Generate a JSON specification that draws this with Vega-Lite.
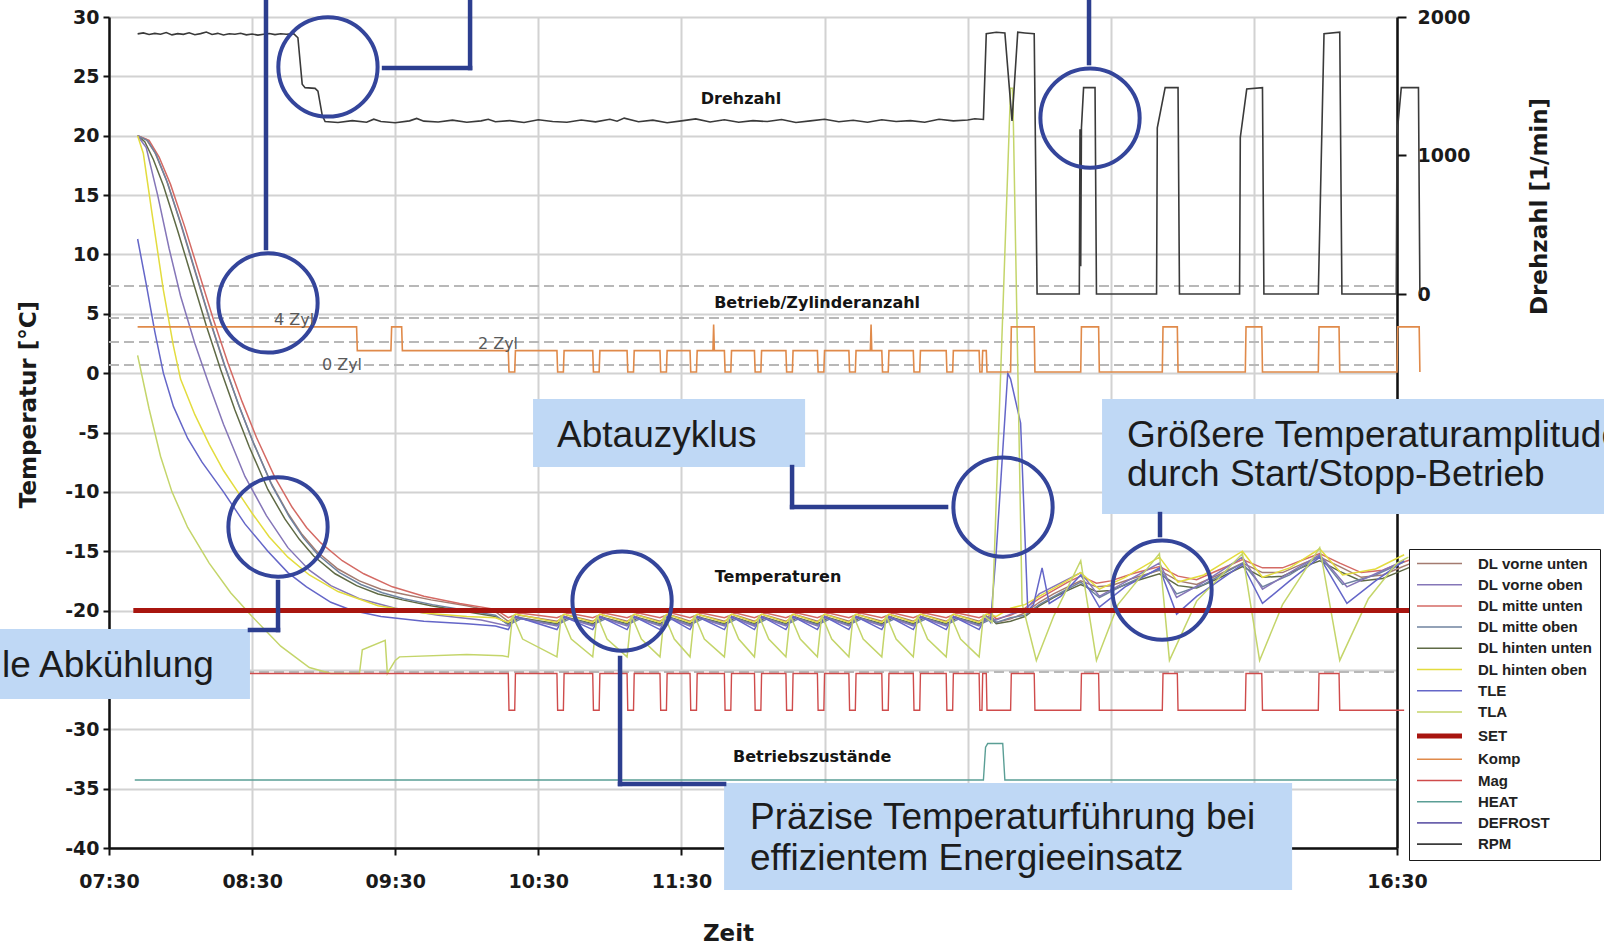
{
"$schema":"https://vega.github.io/schema/vega-lite/v6.json",
"width":1288,"height":831,
"autosize":{"type":"none"},
"padding":{"left":109,"top":17,"right":207,"bottom":101},
"background":"white",
"config":{
 "view":{"stroke":null},
 "axis":{"labelFont":"DejaVu Sans","labelFontWeight":"bold","labelFontSize":19,"labelColor":"#1a1a1a","titleFont":"DejaVu Sans","titleFontWeight":"bold","titleFontSize":23,"titleColor":"#1a1a1a","domainColor":"#111111","domainWidth":2.5,"tickColor":"#111111","tickWidth":2,"gridColor":"#d2d2d2","gridWidth":2}
},
"datasets":{
 "refs":[{"t":7.5,"t2":16.5,"v":7.34},{"t":7.5,"t2":16.5,"v":4.64},{"t":7.5,"t2":16.5,"v":2.62},{"t":7.5,"t2":16.5,"v":0.68},{"t":7.5,"t2":16.5,"v":-25.18}],
 "temps":[
{"s":"DL vorne unten","t":7.70,"v":20},{"s":"DL vorne unten","t":7.76,"v":19.7},{"s":"DL vorne unten","t":7.82,"v":18.6},{"s":"DL vorne unten","t":7.90,"v":16.3},{"s":"DL vorne unten","t":8.00,"v":12.6},{"s":"DL vorne unten","t":8.10,"v":8.6},{"s":"DL vorne unten","t":8.20,"v":4.6},{"s":"DL vorne unten","t":8.30,"v":0.9},{"s":"DL vorne unten","t":8.40,"v":-2.5},{"s":"DL vorne unten","t":8.50,"v":-5.6},{"s":"DL vorne unten","t":8.63,"v":-9.2},{"s":"DL vorne unten","t":8.75,"v":-11.8},{"s":"DL vorne unten","t":8.85,"v":-13.6},{"s":"DL vorne unten","t":8.95,"v":-15.0},{"s":"DL vorne unten","t":9.10,"v":-16.5},{"s":"DL vorne unten","t":9.25,"v":-17.5},{"s":"DL vorne unten","t":9.40,"v":-18.2},{"s":"DL vorne unten","t":9.55,"v":-18.6},{"s":"DL vorne unten","t":9.75,"v":-19.1},{"s":"DL vorne unten","t":10.00,"v":-19.6},{"s":"DL vorne unten","t":10.20,"v":-20.1},
{"s":"DL vorne unten","t":10.29,"v":-20.9},{"s":"DL vorne unten","t":10.37,"v":-20.4},{"s":"DL vorne unten","t":10.63,"v":-20.9},{"s":"DL vorne unten","t":10.71,"v":-20.4},{"s":"DL vorne unten","t":10.88,"v":-20.9},{"s":"DL vorne unten","t":10.96,"v":-20.4},{"s":"DL vorne unten","t":11.12,"v":-20.9},{"s":"DL vorne unten","t":11.20,"v":-20.4},{"s":"DL vorne unten","t":11.35,"v":-20.9},{"s":"DL vorne unten","t":11.43,"v":-20.4},{"s":"DL vorne unten","t":11.56,"v":-20.9},{"s":"DL vorne unten","t":11.64,"v":-20.4},{"s":"DL vorne unten","t":11.80,"v":-20.9},{"s":"DL vorne unten","t":11.88,"v":-20.4},{"s":"DL vorne unten","t":12.01,"v":-20.9},{"s":"DL vorne unten","t":12.09,"v":-20.4},{"s":"DL vorne unten","t":12.23,"v":-20.9},{"s":"DL vorne unten","t":12.31,"v":-20.4},{"s":"DL vorne unten","t":12.45,"v":-20.9},{"s":"DL vorne unten","t":12.53,"v":-20.4},{"s":"DL vorne unten","t":12.67,"v":-20.9},{"s":"DL vorne unten","t":12.75,"v":-20.4},{"s":"DL vorne unten","t":12.90,"v":-20.9},{"s":"DL vorne unten","t":12.98,"v":-20.4},{"s":"DL vorne unten","t":13.12,"v":-20.9},{"s":"DL vorne unten","t":13.20,"v":-20.4},{"s":"DL vorne unten","t":13.35,"v":-20.9},{"s":"DL vorne unten","t":13.43,"v":-20.4},{"s":"DL vorne unten","t":13.58,"v":-20.9},{"s":"DL vorne unten","t":13.66,"v":-20.4},
{"s":"DL vorne unten","t":13.70,"v":-21.0},{"s":"DL vorne unten","t":13.80,"v":-20.7},{"s":"DL vorne unten","t":13.90,"v":-20.2},{"s":"DL vorne unten","t":14.00,"v":-19.3},{"s":"DL vorne unten","t":14.10,"v":-18.6},{"s":"DL vorne unten","t":14.20,"v":-18.0},{"s":"DL vorne unten","t":14.29,"v":-17.5},{"s":"DL vorne unten","t":14.40,"v":-18.0},{"s":"DL vorne unten","t":14.50,"v":-17.9},{"s":"DL vorne unten","t":14.65,"v":-17.3},{"s":"DL vorne unten","t":14.84,"v":-16.6},{"s":"DL vorne unten","t":14.97,"v":-17.5},{"s":"DL vorne unten","t":15.10,"v":-17.8},{"s":"DL vorne unten","t":15.25,"v":-17.0},{"s":"DL vorne unten","t":15.42,"v":-16.0},{"s":"DL vorne unten","t":15.56,"v":-16.8},{"s":"DL vorne unten","t":15.70,"v":-16.8},{"s":"DL vorne unten","t":15.85,"v":-16.0},{"s":"DL vorne unten","t":15.96,"v":-15.5},{"s":"DL vorne unten","t":16.10,"v":-16.3},{"s":"DL vorne unten","t":16.25,"v":-17.2},{"s":"DL vorne unten","t":16.40,"v":-17.0},{"s":"DL vorne unten","t":16.50,"v":-16.5},{"s":"DL vorne unten","t":16.60,"v":-16.0},

{"s":"DL mitte unten","t":7.70,"v":20},{"s":"DL mitte unten","t":7.78,"v":19.6},{"s":"DL mitte unten","t":7.85,"v":18.2},{"s":"DL mitte unten","t":7.93,"v":15.9},{"s":"DL mitte unten","t":8.03,"v":12.3},{"s":"DL mitte unten","t":8.13,"v":8.4},{"s":"DL mitte unten","t":8.23,"v":4.5},{"s":"DL mitte unten","t":8.33,"v":0.9},{"s":"DL mitte unten","t":8.43,"v":-2.4},{"s":"DL mitte unten","t":8.53,"v":-5.4},{"s":"DL mitte unten","t":8.66,"v":-8.8},{"s":"DL mitte unten","t":8.78,"v":-11.3},{"s":"DL mitte unten","t":8.88,"v":-13.0},{"s":"DL mitte unten","t":8.98,"v":-14.3},{"s":"DL mitte unten","t":9.13,"v":-15.8},{"s":"DL mitte unten","t":9.28,"v":-16.9},{"s":"DL mitte unten","t":9.48,"v":-18.0},{"s":"DL mitte unten","t":9.70,"v":-18.8},{"s":"DL mitte unten","t":9.95,"v":-19.4},{"s":"DL mitte unten","t":10.20,"v":-19.9},
{"s":"DL mitte unten","t":10.29,"v":-20.6},{"s":"DL mitte unten","t":10.37,"v":-20.2},{"s":"DL mitte unten","t":10.63,"v":-20.6},{"s":"DL mitte unten","t":10.71,"v":-20.2},{"s":"DL mitte unten","t":10.88,"v":-20.6},{"s":"DL mitte unten","t":10.96,"v":-20.2},{"s":"DL mitte unten","t":11.12,"v":-20.6},{"s":"DL mitte unten","t":11.20,"v":-20.2},{"s":"DL mitte unten","t":11.35,"v":-20.6},{"s":"DL mitte unten","t":11.43,"v":-20.2},{"s":"DL mitte unten","t":11.56,"v":-20.6},{"s":"DL mitte unten","t":11.64,"v":-20.2},{"s":"DL mitte unten","t":11.80,"v":-20.6},{"s":"DL mitte unten","t":11.88,"v":-20.2},{"s":"DL mitte unten","t":12.01,"v":-20.6},{"s":"DL mitte unten","t":12.09,"v":-20.2},{"s":"DL mitte unten","t":12.23,"v":-20.6},{"s":"DL mitte unten","t":12.31,"v":-20.2},{"s":"DL mitte unten","t":12.45,"v":-20.6},{"s":"DL mitte unten","t":12.53,"v":-20.2},{"s":"DL mitte unten","t":12.67,"v":-20.6},{"s":"DL mitte unten","t":12.75,"v":-20.2},{"s":"DL mitte unten","t":12.90,"v":-20.6},{"s":"DL mitte unten","t":12.98,"v":-20.2},{"s":"DL mitte unten","t":13.12,"v":-20.6},{"s":"DL mitte unten","t":13.20,"v":-20.2},{"s":"DL mitte unten","t":13.35,"v":-20.6},{"s":"DL mitte unten","t":13.43,"v":-20.2},{"s":"DL mitte unten","t":13.58,"v":-20.6},{"s":"DL mitte unten","t":13.66,"v":-20.2},
{"s":"DL mitte unten","t":13.70,"v":-20.7},{"s":"DL mitte unten","t":13.80,"v":-20.4},{"s":"DL mitte unten","t":13.90,"v":-19.8},{"s":"DL mitte unten","t":14.00,"v":-19.0},{"s":"DL mitte unten","t":14.10,"v":-18.3},{"s":"DL mitte unten","t":14.20,"v":-17.6},{"s":"DL mitte unten","t":14.29,"v":-17.1},{"s":"DL mitte unten","t":14.40,"v":-17.7},{"s":"DL mitte unten","t":14.50,"v":-17.5},{"s":"DL mitte unten","t":14.65,"v":-16.9},{"s":"DL mitte unten","t":14.84,"v":-16.3},{"s":"DL mitte unten","t":14.97,"v":-17.1},{"s":"DL mitte unten","t":15.10,"v":-17.4},{"s":"DL mitte unten","t":15.25,"v":-16.6},{"s":"DL mitte unten","t":15.42,"v":-15.7},{"s":"DL mitte unten","t":15.56,"v":-16.4},{"s":"DL mitte unten","t":15.70,"v":-16.4},{"s":"DL mitte unten","t":15.85,"v":-15.7},{"s":"DL mitte unten","t":15.96,"v":-15.2},{"s":"DL mitte unten","t":16.10,"v":-16.0},{"s":"DL mitte unten","t":16.25,"v":-16.8},{"s":"DL mitte unten","t":16.40,"v":-16.6},{"s":"DL mitte unten","t":16.50,"v":-16.1},{"s":"DL mitte unten","t":16.60,"v":-15.7},

{"s":"DL hinten unten","t":7.70,"v":20},{"s":"DL hinten unten","t":7.75,"v":19.5},{"s":"DL hinten unten","t":7.81,"v":18.0},{"s":"DL hinten unten","t":7.88,"v":15.8},{"s":"DL hinten unten","t":7.98,"v":12.0},{"s":"DL hinten unten","t":8.08,"v":8.0},{"s":"DL hinten unten","t":8.18,"v":4.0},{"s":"DL hinten unten","t":8.28,"v":0.3},{"s":"DL hinten unten","t":8.38,"v":-3.1},{"s":"DL hinten unten","t":8.48,"v":-6.2},{"s":"DL hinten unten","t":8.61,"v":-9.8},{"s":"DL hinten unten","t":8.73,"v":-12.3},{"s":"DL hinten unten","t":8.83,"v":-14.0},{"s":"DL hinten unten","t":8.93,"v":-15.4},{"s":"DL hinten unten","t":9.08,"v":-16.9},{"s":"DL hinten unten","t":9.23,"v":-17.9},{"s":"DL hinten unten","t":9.38,"v":-18.6},{"s":"DL hinten unten","t":9.55,"v":-19.1},{"s":"DL hinten unten","t":9.75,"v":-19.6},{"s":"DL hinten unten","t":10.00,"v":-20.1},{"s":"DL hinten unten","t":10.20,"v":-20.5},
{"s":"DL hinten unten","t":10.29,"v":-21.1},{"s":"DL hinten unten","t":10.37,"v":-20.6},{"s":"DL hinten unten","t":10.63,"v":-21.1},{"s":"DL hinten unten","t":10.71,"v":-20.6},{"s":"DL hinten unten","t":10.88,"v":-21.1},{"s":"DL hinten unten","t":10.96,"v":-20.6},{"s":"DL hinten unten","t":11.12,"v":-21.1},{"s":"DL hinten unten","t":11.20,"v":-20.6},{"s":"DL hinten unten","t":11.35,"v":-21.1},{"s":"DL hinten unten","t":11.43,"v":-20.6},{"s":"DL hinten unten","t":11.56,"v":-21.1},{"s":"DL hinten unten","t":11.64,"v":-20.6},{"s":"DL hinten unten","t":11.80,"v":-21.1},{"s":"DL hinten unten","t":11.88,"v":-20.6},{"s":"DL hinten unten","t":12.01,"v":-21.1},{"s":"DL hinten unten","t":12.09,"v":-20.6},{"s":"DL hinten unten","t":12.23,"v":-21.1},{"s":"DL hinten unten","t":12.31,"v":-20.6},{"s":"DL hinten unten","t":12.45,"v":-21.1},{"s":"DL hinten unten","t":12.53,"v":-20.6},{"s":"DL hinten unten","t":12.67,"v":-21.1},{"s":"DL hinten unten","t":12.75,"v":-20.6},{"s":"DL hinten unten","t":12.90,"v":-21.1},{"s":"DL hinten unten","t":12.98,"v":-20.6},{"s":"DL hinten unten","t":13.12,"v":-21.1},{"s":"DL hinten unten","t":13.20,"v":-20.6},{"s":"DL hinten unten","t":13.35,"v":-21.1},{"s":"DL hinten unten","t":13.43,"v":-20.6},{"s":"DL hinten unten","t":13.58,"v":-21.1},{"s":"DL hinten unten","t":13.66,"v":-20.6},
{"s":"DL hinten unten","t":13.70,"v":-21.1},{"s":"DL hinten unten","t":13.80,"v":-20.9},{"s":"DL hinten unten","t":13.90,"v":-20.5},{"s":"DL hinten unten","t":14.00,"v":-19.6},{"s":"DL hinten unten","t":14.10,"v":-18.9},{"s":"DL hinten unten","t":14.20,"v":-18.3},{"s":"DL hinten unten","t":14.29,"v":-17.8},{"s":"DL hinten unten","t":14.40,"v":-18.4},{"s":"DL hinten unten","t":14.50,"v":-18.3},{"s":"DL hinten unten","t":14.65,"v":-17.6},{"s":"DL hinten unten","t":14.84,"v":-16.9},{"s":"DL hinten unten","t":14.97,"v":-17.9},{"s":"DL hinten unten","t":15.10,"v":-18.1},{"s":"DL hinten unten","t":15.25,"v":-17.3},{"s":"DL hinten unten","t":15.42,"v":-16.3},{"s":"DL hinten unten","t":15.56,"v":-17.2},{"s":"DL hinten unten","t":15.70,"v":-17.1},{"s":"DL hinten unten","t":15.85,"v":-16.3},{"s":"DL hinten unten","t":15.96,"v":-15.8},{"s":"DL hinten unten","t":16.10,"v":-16.7},{"s":"DL hinten unten","t":16.25,"v":-17.5},{"s":"DL hinten unten","t":16.40,"v":-17.3},{"s":"DL hinten unten","t":16.50,"v":-16.8},{"s":"DL hinten unten","t":16.60,"v":-16.3},

{"s":"DL mitte oben","t":7.70,"v":20},{"s":"DL mitte oben","t":7.77,"v":19.6},{"s":"DL mitte oben","t":7.83,"v":18.4},{"s":"DL mitte oben","t":7.91,"v":16.0},{"s":"DL mitte oben","t":8.01,"v":12.3},{"s":"DL mitte oben","t":8.11,"v":8.3},{"s":"DL mitte oben","t":8.21,"v":4.3},{"s":"DL mitte oben","t":8.31,"v":0.6},{"s":"DL mitte oben","t":8.41,"v":-2.8},{"s":"DL mitte oben","t":8.51,"v":-5.9},{"s":"DL mitte oben","t":8.64,"v":-9.5},{"s":"DL mitte oben","t":8.76,"v":-12.1},{"s":"DL mitte oben","t":8.86,"v":-13.9},{"s":"DL mitte oben","t":8.96,"v":-15.3},{"s":"DL mitte oben","t":9.11,"v":-16.8},{"s":"DL mitte oben","t":9.26,"v":-17.8},{"s":"DL mitte oben","t":9.41,"v":-18.5},{"s":"DL mitte oben","t":9.56,"v":-19.0},{"s":"DL mitte oben","t":9.76,"v":-19.5},{"s":"DL mitte oben","t":10.00,"v":-20.0},{"s":"DL mitte oben","t":10.20,"v":-20.4},
{"s":"DL mitte oben","t":10.29,"v":-21.2},{"s":"DL mitte oben","t":10.38,"v":-20.7},{"s":"DL mitte oben","t":10.63,"v":-21.2},{"s":"DL mitte oben","t":10.72,"v":-20.7},{"s":"DL mitte oben","t":10.88,"v":-21.2},{"s":"DL mitte oben","t":10.97,"v":-20.7},{"s":"DL mitte oben","t":11.12,"v":-21.2},{"s":"DL mitte oben","t":11.21,"v":-20.7},{"s":"DL mitte oben","t":11.35,"v":-21.2},{"s":"DL mitte oben","t":11.44,"v":-20.7},{"s":"DL mitte oben","t":11.56,"v":-21.2},{"s":"DL mitte oben","t":11.65,"v":-20.7},{"s":"DL mitte oben","t":11.80,"v":-21.2},{"s":"DL mitte oben","t":11.89,"v":-20.7},{"s":"DL mitte oben","t":12.01,"v":-21.2},{"s":"DL mitte oben","t":12.10,"v":-20.7},{"s":"DL mitte oben","t":12.23,"v":-21.2},{"s":"DL mitte oben","t":12.32,"v":-20.7},{"s":"DL mitte oben","t":12.45,"v":-21.2},{"s":"DL mitte oben","t":12.54,"v":-20.7},{"s":"DL mitte oben","t":12.67,"v":-21.2},{"s":"DL mitte oben","t":12.76,"v":-20.7},{"s":"DL mitte oben","t":12.90,"v":-21.2},{"s":"DL mitte oben","t":12.99,"v":-20.7},{"s":"DL mitte oben","t":13.12,"v":-21.2},{"s":"DL mitte oben","t":13.21,"v":-20.7},{"s":"DL mitte oben","t":13.35,"v":-21.2},{"s":"DL mitte oben","t":13.44,"v":-20.7},{"s":"DL mitte oben","t":13.58,"v":-21.2},{"s":"DL mitte oben","t":13.67,"v":-20.7},
{"s":"DL mitte oben","t":13.70,"v":-21.0},{"s":"DL mitte oben","t":13.80,"v":-20.6},{"s":"DL mitte oben","t":13.90,"v":-20.4},{"s":"DL mitte oben","t":14.00,"v":-19.5},{"s":"DL mitte oben","t":14.15,"v":-18.5},{"s":"DL mitte oben","t":14.29,"v":-17.6},{"s":"DL mitte oben","t":14.42,"v":-18.9},{"s":"DL mitte oben","t":14.60,"v":-17.8},{"s":"DL mitte oben","t":14.84,"v":-16.5},{"s":"DL mitte oben","t":14.96,"v":-18.6},{"s":"DL mitte oben","t":15.15,"v":-17.8},{"s":"DL mitte oben","t":15.42,"v":-16.0},{"s":"DL mitte oben","t":15.56,"v":-18.0},{"s":"DL mitte oben","t":15.75,"v":-17.0},{"s":"DL mitte oben","t":15.96,"v":-15.4},{"s":"DL mitte oben","t":16.12,"v":-17.8},{"s":"DL mitte oben","t":16.35,"v":-17.0},{"s":"DL mitte oben","t":16.55,"v":-15.9},

{"s":"DL vorne oben","t":7.70,"v":20},{"s":"DL vorne oben","t":7.76,"v":19.0},{"s":"DL vorne oben","t":7.84,"v":15.0},{"s":"DL vorne oben","t":7.92,"v":10.5},{"s":"DL vorne oben","t":8.00,"v":6.5},{"s":"DL vorne oben","t":8.10,"v":2.5},{"s":"DL vorne oben","t":8.20,"v":-1.0},{"s":"DL vorne oben","t":8.30,"v":-4.3},{"s":"DL vorne oben","t":8.45,"v":-8.7},{"s":"DL vorne oben","t":8.60,"v":-12.0},{"s":"DL vorne oben","t":8.75,"v":-14.7},{"s":"DL vorne oben","t":8.90,"v":-16.6},{"s":"DL vorne oben","t":9.05,"v":-17.9},{"s":"DL vorne oben","t":9.25,"v":-19.0},{"s":"DL vorne oben","t":9.50,"v":-19.8},{"s":"DL vorne oben","t":9.80,"v":-20.4},{"s":"DL vorne oben","t":10.10,"v":-20.8},
{"s":"DL vorne oben","t":10.29,"v":-21.3},{"s":"DL vorne oben","t":10.35,"v":-20.6},{"s":"DL vorne oben","t":10.63,"v":-21.3},{"s":"DL vorne oben","t":10.69,"v":-20.6},{"s":"DL vorne oben","t":10.88,"v":-21.3},{"s":"DL vorne oben","t":10.94,"v":-20.6},{"s":"DL vorne oben","t":11.12,"v":-21.3},{"s":"DL vorne oben","t":11.18,"v":-20.6},{"s":"DL vorne oben","t":11.35,"v":-21.3},{"s":"DL vorne oben","t":11.41,"v":-20.6},{"s":"DL vorne oben","t":11.56,"v":-21.3},{"s":"DL vorne oben","t":11.62,"v":-20.6},{"s":"DL vorne oben","t":11.80,"v":-21.3},{"s":"DL vorne oben","t":11.86,"v":-20.6},{"s":"DL vorne oben","t":12.01,"v":-21.3},{"s":"DL vorne oben","t":12.07,"v":-20.6},{"s":"DL vorne oben","t":12.23,"v":-21.3},{"s":"DL vorne oben","t":12.29,"v":-20.6},{"s":"DL vorne oben","t":12.45,"v":-21.3},{"s":"DL vorne oben","t":12.51,"v":-20.6},{"s":"DL vorne oben","t":12.67,"v":-21.3},{"s":"DL vorne oben","t":12.73,"v":-20.6},{"s":"DL vorne oben","t":12.90,"v":-21.3},{"s":"DL vorne oben","t":12.96,"v":-20.6},{"s":"DL vorne oben","t":13.12,"v":-21.3},{"s":"DL vorne oben","t":13.18,"v":-20.6},{"s":"DL vorne oben","t":13.35,"v":-21.3},{"s":"DL vorne oben","t":13.41,"v":-20.6},{"s":"DL vorne oben","t":13.58,"v":-21.3},{"s":"DL vorne oben","t":13.64,"v":-20.6},
{"s":"DL vorne oben","t":13.70,"v":-20.8},{"s":"DL vorne oben","t":13.80,"v":-20.3},{"s":"DL vorne oben","t":13.90,"v":-20.0},{"s":"DL vorne oben","t":14.00,"v":-18.6},{"s":"DL vorne oben","t":14.29,"v":-16.8},{"s":"DL vorne oben","t":14.42,"v":-18.8},{"s":"DL vorne oben","t":14.60,"v":-17.6},{"s":"DL vorne oben","t":14.84,"v":-16.0},{"s":"DL vorne oben","t":14.96,"v":-18.9},{"s":"DL vorne oben","t":15.15,"v":-17.6},{"s":"DL vorne oben","t":15.42,"v":-15.5},{"s":"DL vorne oben","t":15.56,"v":-18.2},{"s":"DL vorne oben","t":15.75,"v":-16.8},{"s":"DL vorne oben","t":15.96,"v":-15.3},{"s":"DL vorne oben","t":16.15,"v":-18.0},{"s":"DL vorne oben","t":16.35,"v":-16.9},{"s":"DL vorne oben","t":16.55,"v":-15.8},

{"s":"DL hinten oben","t":7.70,"v":20},{"s":"DL hinten oben","t":7.74,"v":18.5},{"s":"DL hinten oben","t":7.80,"v":13.5},{"s":"DL hinten oben","t":7.88,"v":7.0},{"s":"DL hinten oben","t":7.95,"v":2.3},{"s":"DL hinten oben","t":8.00,"v":-0.5},{"s":"DL hinten oben","t":8.10,"v":-3.5},{"s":"DL hinten oben","t":8.20,"v":-6.0},{"s":"DL hinten oben","t":8.30,"v":-8.2},{"s":"DL hinten oben","t":8.40,"v":-10.0},{"s":"DL hinten oben","t":8.50,"v":-11.8},{"s":"DL hinten oben","t":8.62,"v":-13.8},{"s":"DL hinten oben","t":8.75,"v":-15.5},{"s":"DL hinten oben","t":8.90,"v":-17.0},{"s":"DL hinten oben","t":9.10,"v":-18.4},{"s":"DL hinten oben","t":9.38,"v":-19.6},{"s":"DL hinten oben","t":9.70,"v":-20.2},{"s":"DL hinten oben","t":10.00,"v":-20.5},{"s":"DL hinten oben","t":10.20,"v":-20.6},
{"s":"DL hinten oben","t":10.29,"v":-21.0},{"s":"DL hinten oben","t":10.34,"v":-20.3},{"s":"DL hinten oben","t":10.63,"v":-21.0},{"s":"DL hinten oben","t":10.68,"v":-20.3},{"s":"DL hinten oben","t":10.88,"v":-21.0},{"s":"DL hinten oben","t":10.93,"v":-20.3},{"s":"DL hinten oben","t":11.12,"v":-21.0},{"s":"DL hinten oben","t":11.17,"v":-20.3},{"s":"DL hinten oben","t":11.35,"v":-21.0},{"s":"DL hinten oben","t":11.40,"v":-20.3},{"s":"DL hinten oben","t":11.56,"v":-21.0},{"s":"DL hinten oben","t":11.61,"v":-20.3},{"s":"DL hinten oben","t":11.80,"v":-21.0},{"s":"DL hinten oben","t":11.85,"v":-20.3},{"s":"DL hinten oben","t":12.01,"v":-21.0},{"s":"DL hinten oben","t":12.06,"v":-20.3},{"s":"DL hinten oben","t":12.23,"v":-21.0},{"s":"DL hinten oben","t":12.28,"v":-20.3},{"s":"DL hinten oben","t":12.45,"v":-21.0},{"s":"DL hinten oben","t":12.50,"v":-20.3},{"s":"DL hinten oben","t":12.67,"v":-21.0},{"s":"DL hinten oben","t":12.72,"v":-20.3},{"s":"DL hinten oben","t":12.90,"v":-21.0},{"s":"DL hinten oben","t":12.95,"v":-20.3},{"s":"DL hinten oben","t":13.12,"v":-21.0},{"s":"DL hinten oben","t":13.17,"v":-20.3},{"s":"DL hinten oben","t":13.35,"v":-21.0},{"s":"DL hinten oben","t":13.40,"v":-20.3},{"s":"DL hinten oben","t":13.58,"v":-21.0},{"s":"DL hinten oben","t":13.63,"v":-20.3},
{"s":"DL hinten oben","t":13.70,"v":-20.5},{"s":"DL hinten oben","t":13.80,"v":-19.8},{"s":"DL hinten oben","t":13.90,"v":-19.5},{"s":"DL hinten oben","t":14.00,"v":-18.8},{"s":"DL hinten oben","t":14.15,"v":-17.8},{"s":"DL hinten oben","t":14.29,"v":-16.8},{"s":"DL hinten oben","t":14.42,"v":-18.2},{"s":"DL hinten oben","t":14.60,"v":-17.2},{"s":"DL hinten oben","t":14.84,"v":-15.5},{"s":"DL hinten oben","t":14.97,"v":-17.6},{"s":"DL hinten oben","t":15.15,"v":-17.0},{"s":"DL hinten oben","t":15.42,"v":-15.0},{"s":"DL hinten oben","t":15.56,"v":-17.2},{"s":"DL hinten oben","t":15.75,"v":-16.4},{"s":"DL hinten oben","t":15.96,"v":-14.8},{"s":"DL hinten oben","t":16.12,"v":-17.0},{"s":"DL hinten oben","t":16.35,"v":-16.5},{"s":"DL hinten oben","t":16.55,"v":-15.3},

{"s":"TLE","t":7.70,"v":11.3},{"s":"TLE","t":7.76,"v":7.5},{"s":"TLE","t":7.82,"v":3.5},{"s":"TLE","t":7.88,"v":0},{"s":"TLE","t":7.95,"v":-2.8},{"s":"TLE","t":8.05,"v":-5.5},{"s":"TLE","t":8.15,"v":-7.5},{"s":"TLE","t":8.30,"v":-10},{"s":"TLE","t":8.45,"v":-12.7},{"s":"TLE","t":8.61,"v":-15},{"s":"TLE","t":8.75,"v":-16.8},{"s":"TLE","t":8.88,"v":-18},{"s":"TLE","t":9.05,"v":-19.3},{"s":"TLE","t":9.20,"v":-20},{"s":"TLE","t":9.40,"v":-20.5},{"s":"TLE","t":9.70,"v":-20.9},{"s":"TLE","t":10.00,"v":-21.1},{"s":"TLE","t":10.20,"v":-21.3},
{"s":"TLE","t":10.29,"v":-21.6},{"s":"TLE","t":10.34,"v":-20.5},{"s":"TLE","t":10.63,"v":-21.6},{"s":"TLE","t":10.68,"v":-20.5},{"s":"TLE","t":10.88,"v":-21.6},{"s":"TLE","t":10.93,"v":-20.5},{"s":"TLE","t":11.12,"v":-21.6},{"s":"TLE","t":11.17,"v":-20.5},{"s":"TLE","t":11.35,"v":-21.6},{"s":"TLE","t":11.40,"v":-20.5},{"s":"TLE","t":11.56,"v":-21.6},{"s":"TLE","t":11.61,"v":-20.5},{"s":"TLE","t":11.80,"v":-21.6},{"s":"TLE","t":11.85,"v":-20.5},{"s":"TLE","t":12.01,"v":-21.6},{"s":"TLE","t":12.06,"v":-20.5},{"s":"TLE","t":12.23,"v":-21.6},{"s":"TLE","t":12.28,"v":-20.5},{"s":"TLE","t":12.45,"v":-21.6},{"s":"TLE","t":12.50,"v":-20.5},{"s":"TLE","t":12.67,"v":-21.6},{"s":"TLE","t":12.72,"v":-20.5},{"s":"TLE","t":12.90,"v":-21.6},{"s":"TLE","t":12.95,"v":-20.5},{"s":"TLE","t":13.12,"v":-21.6},{"s":"TLE","t":13.17,"v":-20.5},{"s":"TLE","t":13.35,"v":-21.6},{"s":"TLE","t":13.40,"v":-20.5},{"s":"TLE","t":13.58,"v":-21.6},{"s":"TLE","t":13.63,"v":-20.5},
{"s":"TLE","t":13.66,"v":-21.0},{"s":"TLE","t":13.70,"v":-15},{"s":"TLE","t":13.78,"v":0},{"s":"TLE","t":13.80,"v":-0.5},{"s":"TLE","t":13.87,"v":-4.2},{"s":"TLE","t":13.92,"v":-20.0},{"s":"TLE","t":13.96,"v":-19.5},{"s":"TLE","t":14.02,"v":-16.4},{"s":"TLE","t":14.07,"v":-19.4},{"s":"TLE","t":14.15,"v":-18.8},{"s":"TLE","t":14.29,"v":-17.0},{"s":"TLE","t":14.42,"v":-19.7},{"s":"TLE","t":14.60,"v":-18.0},{"s":"TLE","t":14.84,"v":-16.4},{"s":"TLE","t":14.96,"v":-20.3},{"s":"TLE","t":15.10,"v":-18.8},{"s":"TLE","t":15.42,"v":-16.1},{"s":"TLE","t":15.56,"v":-19.4},{"s":"TLE","t":15.75,"v":-17.5},{"s":"TLE","t":15.96,"v":-15.5},{"s":"TLE","t":16.15,"v":-19.4},{"s":"TLE","t":16.35,"v":-17.5},{"s":"TLE","t":16.55,"v":-15.8},

{"s":"TLA","t":7.70,"v":1.5},{"s":"TLA","t":7.78,"v":-3},{"s":"TLA","t":7.86,"v":-7},{"s":"TLA","t":7.94,"v":-10},{"s":"TLA","t":8.05,"v":-13},{"s":"TLA","t":8.20,"v":-16},{"s":"TLA","t":8.35,"v":-18.5},{"s":"TLA","t":8.50,"v":-20.5},{"s":"TLA","t":8.70,"v":-23},{"s":"TLA","t":8.90,"v":-24.8},{"s":"TLA","t":9.05,"v":-25.3},{"s":"TLA","t":9.25,"v":-25.3},{"s":"TLA","t":9.27,"v":-23.3},{"s":"TLA","t":9.43,"v":-22.5},{"s":"TLA","t":9.445,"v":-25.3},{"s":"TLA","t":9.50,"v":-24.2},{"s":"TLA","t":9.53,"v":-23.9},{"s":"TLA","t":10.00,"v":-23.7},{"s":"TLA","t":10.25,"v":-23.8},
{"s":"TLA","t":10.29,"v":-23.9},{"s":"TLA","t":10.32,"v":-20.4},{"s":"TLA","t":10.39,"v":-22.4},{"s":"TLA","t":10.63,"v":-23.9},{"s":"TLA","t":10.66,"v":-20.4},{"s":"TLA","t":10.73,"v":-22.4},{"s":"TLA","t":10.88,"v":-23.9},{"s":"TLA","t":10.91,"v":-20.4},{"s":"TLA","t":10.98,"v":-22.4},{"s":"TLA","t":11.12,"v":-23.9},{"s":"TLA","t":11.15,"v":-20.4},{"s":"TLA","t":11.22,"v":-22.4},{"s":"TLA","t":11.35,"v":-23.9},{"s":"TLA","t":11.38,"v":-20.4},{"s":"TLA","t":11.45,"v":-22.4},{"s":"TLA","t":11.56,"v":-23.9},{"s":"TLA","t":11.59,"v":-20.4},{"s":"TLA","t":11.66,"v":-22.4},{"s":"TLA","t":11.80,"v":-23.9},{"s":"TLA","t":11.83,"v":-20.4},{"s":"TLA","t":11.90,"v":-22.4},{"s":"TLA","t":12.01,"v":-23.9},{"s":"TLA","t":12.04,"v":-20.4},{"s":"TLA","t":12.11,"v":-22.4},{"s":"TLA","t":12.23,"v":-23.9},{"s":"TLA","t":12.26,"v":-20.4},{"s":"TLA","t":12.33,"v":-22.4},{"s":"TLA","t":12.45,"v":-23.9},{"s":"TLA","t":12.48,"v":-20.4},{"s":"TLA","t":12.55,"v":-22.4},{"s":"TLA","t":12.67,"v":-23.9},{"s":"TLA","t":12.70,"v":-20.4},{"s":"TLA","t":12.77,"v":-22.4},{"s":"TLA","t":12.90,"v":-23.9},{"s":"TLA","t":12.93,"v":-20.4},{"s":"TLA","t":13.00,"v":-22.4},{"s":"TLA","t":13.12,"v":-23.9},{"s":"TLA","t":13.15,"v":-20.4},{"s":"TLA","t":13.22,"v":-22.4},{"s":"TLA","t":13.35,"v":-23.9},{"s":"TLA","t":13.38,"v":-20.4},{"s":"TLA","t":13.45,"v":-22.4},{"s":"TLA","t":13.58,"v":-23.9},{"s":"TLA","t":13.61,"v":-20.4},
{"s":"TLA","t":13.67,"v":-21.0},{"s":"TLA","t":13.80,"v":24},{"s":"TLA","t":13.815,"v":24},{"s":"TLA","t":13.88,"v":-19.4},{"s":"TLA","t":13.98,"v":-24.2},{"s":"TLA","t":14.10,"v":-20.5},{"s":"TLA","t":14.29,"v":-15.8},{"s":"TLA","t":14.40,"v":-24.2},{"s":"TLA","t":14.55,"v":-19.5},{"s":"TLA","t":14.84,"v":-15.2},{"s":"TLA","t":14.91,"v":-24.2},{"s":"TLA","t":15.10,"v":-19.2},{"s":"TLA","t":15.42,"v":-15.2},{"s":"TLA","t":15.54,"v":-24.2},{"s":"TLA","t":15.70,"v":-19.5},{"s":"TLA","t":15.96,"v":-14.7},{"s":"TLA","t":16.10,"v":-24.2},{"s":"TLA","t":16.30,"v":-19.0},{"s":"TLA","t":16.50,"v":-16.0},{"s":"TLA","t":16.58,"v":-15.5},

{"s":"SET","t":7.67,"v":-20},{"s":"SET","t":16.6,"v":-20},

{"s":"Komp","t":7.70,"v":3.9},{"s":"Komp","t":9.23,"v":3.9},{"s":"Komp","t":9.235,"v":1.9},{"s":"Komp","t":9.47,"v":1.9},{"s":"Komp","t":9.475,"v":3.9},{"s":"Komp","t":9.545,"v":3.9},{"s":"Komp","t":9.55,"v":1.9},
{"s":"Komp","t":10.29,"v":1.9},{"s":"Komp","t":10.295,"v":0.1},{"s":"Komp","t":10.335,"v":0.1},{"s":"Komp","t":10.34,"v":1.9},
{"s":"Komp","t":10.63,"v":1.9},{"s":"Komp","t":10.635,"v":0.1},{"s":"Komp","t":10.675,"v":0.1},{"s":"Komp","t":10.68,"v":1.9},
{"s":"Komp","t":10.88,"v":1.9},{"s":"Komp","t":10.885,"v":0.1},{"s":"Komp","t":10.925,"v":0.1},{"s":"Komp","t":10.93,"v":1.9},
{"s":"Komp","t":11.12,"v":1.9},{"s":"Komp","t":11.125,"v":0.1},{"s":"Komp","t":11.165,"v":0.1},{"s":"Komp","t":11.17,"v":1.9},
{"s":"Komp","t":11.35,"v":1.9},{"s":"Komp","t":11.355,"v":0.1},{"s":"Komp","t":11.395,"v":0.1},{"s":"Komp","t":11.40,"v":1.9},
{"s":"Komp","t":11.56,"v":1.9},{"s":"Komp","t":11.565,"v":0.1},{"s":"Komp","t":11.605,"v":0.1},{"s":"Komp","t":11.61,"v":1.9},
{"s":"Komp","t":11.72,"v":1.9},{"s":"Komp","t":11.725,"v":4.1},{"s":"Komp","t":11.73,"v":1.9},
{"s":"Komp","t":11.80,"v":1.9},{"s":"Komp","t":11.805,"v":0.1},{"s":"Komp","t":11.845,"v":0.1},{"s":"Komp","t":11.85,"v":1.9},
{"s":"Komp","t":12.01,"v":1.9},{"s":"Komp","t":12.015,"v":0.1},{"s":"Komp","t":12.055,"v":0.1},{"s":"Komp","t":12.06,"v":1.9},
{"s":"Komp","t":12.23,"v":1.9},{"s":"Komp","t":12.235,"v":0.1},{"s":"Komp","t":12.275,"v":0.1},{"s":"Komp","t":12.28,"v":1.9},
{"s":"Komp","t":12.45,"v":1.9},{"s":"Komp","t":12.455,"v":0.1},{"s":"Komp","t":12.495,"v":0.1},{"s":"Komp","t":12.50,"v":1.9},
{"s":"Komp","t":12.67,"v":1.9},{"s":"Komp","t":12.675,"v":0.1},{"s":"Komp","t":12.715,"v":0.1},{"s":"Komp","t":12.72,"v":1.9},
{"s":"Komp","t":12.82,"v":1.9},{"s":"Komp","t":12.825,"v":4.1},{"s":"Komp","t":12.83,"v":1.9},
{"s":"Komp","t":12.90,"v":1.9},{"s":"Komp","t":12.905,"v":0.1},{"s":"Komp","t":12.945,"v":0.1},{"s":"Komp","t":12.95,"v":1.9},
{"s":"Komp","t":13.12,"v":1.9},{"s":"Komp","t":13.125,"v":0.1},{"s":"Komp","t":13.165,"v":0.1},{"s":"Komp","t":13.17,"v":1.9},
{"s":"Komp","t":13.35,"v":1.9},{"s":"Komp","t":13.355,"v":0.1},{"s":"Komp","t":13.395,"v":0.1},{"s":"Komp","t":13.40,"v":1.9},
{"s":"Komp","t":13.58,"v":1.9},{"s":"Komp","t":13.585,"v":0.1},{"s":"Komp","t":13.6,"v":0.1},{"s":"Komp","t":13.605,"v":1.9},
{"s":"Komp","t":13.63,"v":1.9},{"s":"Komp","t":13.635,"v":0.1},{"s":"Komp","t":13.80,"v":0.1},{"s":"Komp","t":13.805,"v":3.9},{"s":"Komp","t":13.965,"v":3.9},{"s":"Komp","t":13.97,"v":0.1},{"s":"Komp","t":14.29,"v":0.1},{"s":"Komp","t":14.295,"v":3.9},{"s":"Komp","t":14.415,"v":3.9},{"s":"Komp","t":14.42,"v":0.1},{"s":"Komp","t":14.86,"v":0.1},{"s":"Komp","t":14.865,"v":3.9},{"s":"Komp","t":14.965,"v":3.9},{"s":"Komp","t":14.97,"v":0.1},{"s":"Komp","t":15.44,"v":0.1},{"s":"Komp","t":15.445,"v":3.9},{"s":"Komp","t":15.555,"v":3.9},{"s":"Komp","t":15.56,"v":0.1},{"s":"Komp","t":15.95,"v":0.1},{"s":"Komp","t":15.955,"v":3.9},{"s":"Komp","t":16.095,"v":3.9},{"s":"Komp","t":16.10,"v":0.1},{"s":"Komp","t":16.50,"v":0.1},{"s":"Komp","t":16.505,"v":3.9},{"s":"Komp","t":16.655,"v":3.9},{"s":"Komp","t":16.66,"v":0.1},

{"s":"Mag","t":7.70,"v":-25.3},
{"s":"Mag","t":10.29,"v":-25.3},{"s":"Mag","t":10.295,"v":-28.4},{"s":"Mag","t":10.335,"v":-28.4},{"s":"Mag","t":10.34,"v":-25.3},
{"s":"Mag","t":10.63,"v":-25.3},{"s":"Mag","t":10.635,"v":-28.4},{"s":"Mag","t":10.675,"v":-28.4},{"s":"Mag","t":10.68,"v":-25.3},
{"s":"Mag","t":10.88,"v":-25.3},{"s":"Mag","t":10.885,"v":-28.4},{"s":"Mag","t":10.925,"v":-28.4},{"s":"Mag","t":10.93,"v":-25.3},
{"s":"Mag","t":11.12,"v":-25.3},{"s":"Mag","t":11.125,"v":-28.4},{"s":"Mag","t":11.165,"v":-28.4},{"s":"Mag","t":11.17,"v":-25.3},
{"s":"Mag","t":11.35,"v":-25.3},{"s":"Mag","t":11.355,"v":-28.4},{"s":"Mag","t":11.395,"v":-28.4},{"s":"Mag","t":11.40,"v":-25.3},
{"s":"Mag","t":11.56,"v":-25.3},{"s":"Mag","t":11.565,"v":-28.4},{"s":"Mag","t":11.605,"v":-28.4},{"s":"Mag","t":11.61,"v":-25.3},
{"s":"Mag","t":11.80,"v":-25.3},{"s":"Mag","t":11.805,"v":-28.4},{"s":"Mag","t":11.845,"v":-28.4},{"s":"Mag","t":11.85,"v":-25.3},
{"s":"Mag","t":12.01,"v":-25.3},{"s":"Mag","t":12.015,"v":-28.4},{"s":"Mag","t":12.055,"v":-28.4},{"s":"Mag","t":12.06,"v":-25.3},
{"s":"Mag","t":12.23,"v":-25.3},{"s":"Mag","t":12.235,"v":-28.4},{"s":"Mag","t":12.275,"v":-28.4},{"s":"Mag","t":12.28,"v":-25.3},
{"s":"Mag","t":12.45,"v":-25.3},{"s":"Mag","t":12.455,"v":-28.4},{"s":"Mag","t":12.495,"v":-28.4},{"s":"Mag","t":12.50,"v":-25.3},
{"s":"Mag","t":12.67,"v":-25.3},{"s":"Mag","t":12.675,"v":-28.4},{"s":"Mag","t":12.715,"v":-28.4},{"s":"Mag","t":12.72,"v":-25.3},
{"s":"Mag","t":12.90,"v":-25.3},{"s":"Mag","t":12.905,"v":-28.4},{"s":"Mag","t":12.945,"v":-28.4},{"s":"Mag","t":12.95,"v":-25.3},
{"s":"Mag","t":13.12,"v":-25.3},{"s":"Mag","t":13.125,"v":-28.4},{"s":"Mag","t":13.165,"v":-28.4},{"s":"Mag","t":13.17,"v":-25.3},
{"s":"Mag","t":13.35,"v":-25.3},{"s":"Mag","t":13.355,"v":-28.4},{"s":"Mag","t":13.395,"v":-28.4},{"s":"Mag","t":13.40,"v":-25.3},
{"s":"Mag","t":13.58,"v":-25.3},{"s":"Mag","t":13.585,"v":-28.4},{"s":"Mag","t":13.6,"v":-28.4},{"s":"Mag","t":13.605,"v":-25.3},
{"s":"Mag","t":13.63,"v":-25.3},{"s":"Mag","t":13.635,"v":-28.4},{"s":"Mag","t":13.80,"v":-28.4},{"s":"Mag","t":13.805,"v":-25.3},{"s":"Mag","t":13.965,"v":-25.3},{"s":"Mag","t":13.97,"v":-28.4},{"s":"Mag","t":14.29,"v":-28.4},{"s":"Mag","t":14.295,"v":-25.3},{"s":"Mag","t":14.415,"v":-25.3},{"s":"Mag","t":14.42,"v":-28.4},{"s":"Mag","t":14.86,"v":-28.4},{"s":"Mag","t":14.865,"v":-25.3},{"s":"Mag","t":14.965,"v":-25.3},{"s":"Mag","t":14.97,"v":-28.4},{"s":"Mag","t":15.44,"v":-28.4},{"s":"Mag","t":15.445,"v":-25.3},{"s":"Mag","t":15.555,"v":-25.3},{"s":"Mag","t":15.56,"v":-28.4},{"s":"Mag","t":15.95,"v":-28.4},{"s":"Mag","t":15.955,"v":-25.3},{"s":"Mag","t":16.095,"v":-25.3},{"s":"Mag","t":16.10,"v":-28.4},{"s":"Mag","t":16.55,"v":-28.4},

{"s":"HEAT","t":7.68,"v":-34.27},{"s":"HEAT","t":13.61,"v":-34.27},{"s":"HEAT","t":13.625,"v":-31.5},{"s":"HEAT","t":13.64,"v":-31.2},{"s":"HEAT","t":13.745,"v":-31.2},{"s":"HEAT","t":13.76,"v":-34.27},{"s":"HEAT","t":16.5,"v":-34.27}
 ],
 "rpm":[
{"s":"RPM","t":7.70,"v":1878},{"s":"RPM","t":7.74,"v":1885},{"s":"RPM","t":7.78,"v":1874},{"s":"RPM","t":7.82,"v":1882},{"s":"RPM","t":7.86,"v":1876},{"s":"RPM","t":7.90,"v":1888},{"s":"RPM","t":7.94,"v":1871},{"s":"RPM","t":7.98,"v":1880},{"s":"RPM","t":8.02,"v":1875},{"s":"RPM","t":8.06,"v":1886},{"s":"RPM","t":8.10,"v":1872},{"s":"RPM","t":8.14,"v":1880},{"s":"RPM","t":8.18,"v":1891},{"s":"RPM","t":8.22,"v":1874},{"s":"RPM","t":8.26,"v":1882},{"s":"RPM","t":8.30,"v":1870},{"s":"RPM","t":8.34,"v":1879},{"s":"RPM","t":8.38,"v":1875},{"s":"RPM","t":8.42,"v":1883},{"s":"RPM","t":8.46,"v":1871},{"s":"RPM","t":8.50,"v":1877},{"s":"RPM","t":8.54,"v":1869},{"s":"RPM","t":8.58,"v":1876},{"s":"RPM","t":8.62,"v":1881},{"s":"RPM","t":8.66,"v":1873},{"s":"RPM","t":8.70,"v":1879},{"s":"RPM","t":8.74,"v":1876},{"s":"RPM","t":8.79,"v":1880},{"s":"RPM","t":8.82,"v":1850},{"s":"RPM","t":8.85,"v":1515},{"s":"RPM","t":8.87,"v":1490},{"s":"RPM","t":8.94,"v":1485},{"s":"RPM","t":8.96,"v":1465},{"s":"RPM","t":8.99,"v":1290},{"s":"RPM","t":9.01,"v":1245},
{"s":"RPM","t":9.10,"v":1238},{"s":"RPM","t":9.20,"v":1252},{"s":"RPM","t":9.30,"v":1240},{"s":"RPM","t":9.35,"v":1262},{"s":"RPM","t":9.40,"v":1245},{"s":"RPM","t":9.50,"v":1236},{"s":"RPM","t":9.60,"v":1250},{"s":"RPM","t":9.65,"v":1268},{"s":"RPM","t":9.70,"v":1248},{"s":"RPM","t":9.80,"v":1242},{"s":"RPM","t":9.90,"v":1255},{"s":"RPM","t":10.00,"v":1240},{"s":"RPM","t":10.10,"v":1250},{"s":"RPM","t":10.15,"v":1262},{"s":"RPM","t":10.20,"v":1244},{"s":"RPM","t":10.30,"v":1252},{"s":"RPM","t":10.40,"v":1238},{"s":"RPM","t":10.50,"v":1258},{"s":"RPM","t":10.60,"v":1246},{"s":"RPM","t":10.70,"v":1240},{"s":"RPM","t":10.80,"v":1256},{"s":"RPM","t":10.90,"v":1243},{"s":"RPM","t":11.00,"v":1262},{"s":"RPM","t":11.05,"v":1248},{"s":"RPM","t":11.10,"v":1270},{"s":"RPM","t":11.20,"v":1244},{"s":"RPM","t":11.30,"v":1255},{"s":"RPM","t":11.40,"v":1236},{"s":"RPM","t":11.50,"v":1250},{"s":"RPM","t":11.60,"v":1264},{"s":"RPM","t":11.70,"v":1242},{"s":"RPM","t":11.80,"v":1258},{"s":"RPM","t":11.90,"v":1240},{"s":"RPM","t":12.00,"v":1252},{"s":"RPM","t":12.10,"v":1245},{"s":"RPM","t":12.20,"v":1260},{"s":"RPM","t":12.30,"v":1238},{"s":"RPM","t":12.40,"v":1250},{"s":"RPM","t":12.50,"v":1262},{"s":"RPM","t":12.60,"v":1244},{"s":"RPM","t":12.70,"v":1255},{"s":"RPM","t":12.80,"v":1240},{"s":"RPM","t":12.90,"v":1258},{"s":"RPM","t":13.00,"v":1246},{"s":"RPM","t":13.10,"v":1252},{"s":"RPM","t":13.20,"v":1240},{"s":"RPM","t":13.30,"v":1262},{"s":"RPM","t":13.40,"v":1250},{"s":"RPM","t":13.50,"v":1256},{"s":"RPM","t":13.55,"v":1265},{"s":"RPM","t":13.61,"v":1260},
{"s":"RPM","t":13.63,"v":1880},{"s":"RPM","t":13.70,"v":1890},{"s":"RPM","t":13.76,"v":1885},{"s":"RPM","t":13.81,"v":1250},{"s":"RPM","t":13.85,"v":1890},{"s":"RPM","t":13.90,"v":1885},{"s":"RPM","t":13.965,"v":1880},{"s":"RPM","t":13.985,"v":0},{"s":"RPM","t":14.28,"v":0},{"s":"RPM","t":14.285,"v":1190},{"s":"RPM","t":14.29,"v":200},{"s":"RPM","t":14.295,"v":1200},{"s":"RPM","t":14.31,"v":1490},{"s":"RPM","t":14.39,"v":1490},{"s":"RPM","t":14.40,"v":0},{"s":"RPM","t":14.82,"v":0},{"s":"RPM","t":14.825,"v":1200},{"s":"RPM","t":14.88,"v":1490},{"s":"RPM","t":14.97,"v":1490},{"s":"RPM","t":14.98,"v":0},{"s":"RPM","t":15.40,"v":0},{"s":"RPM","t":15.405,"v":1130},{"s":"RPM","t":15.45,"v":1480},{"s":"RPM","t":15.56,"v":1490},{"s":"RPM","t":15.57,"v":0},{"s":"RPM","t":15.95,"v":0},{"s":"RPM","t":15.99,"v":1880},{"s":"RPM","t":16.10,"v":1890},{"s":"RPM","t":16.115,"v":0},{"s":"RPM","t":16.495,"v":0},{"s":"RPM","t":16.50,"v":1150},{"s":"RPM","t":16.53,"v":1490},{"s":"RPM","t":16.65,"v":1490},{"s":"RPM","t":16.66,"v":0}
 ],
 "circles":[{"t":9.030,"v":25.79},{"t":8.611,"v":5.91},{"t":8.681,"v":-12.96},{"t":11.085,"v":-19.20},{"t":13.747,"v":-11.28},{"t":14.858,"v":-18.27},{"t":14.355,"v":21.49}],
 "connectors":[
{"t":8.597,"v":31.43,"t2":8.597,"v2":10.54},
{"t":9.422,"v":25.70,"t2":10.023,"v2":25.70},
{"t":10.023,"v":25.70,"t2":10.023,"v2":31.43},
{"t":14.348,"v":31.43,"t2":14.348,"v2":26.12},
{"t":8.681,"v":-17.60,"t2":8.681,"v2":-21.64},
{"t":8.681,"v":-21.64,"t2":8.485,"v2":-21.64},
{"t":11.071,"v":-23.99,"t2":11.071,"v2":-34.61},
{"t":11.071,"v":-34.61,"t2":11.798,"v2":-34.61},
{"t":12.273,"v":-7.91,"t2":12.273,"v2":-11.28},
{"t":12.273,"v":-11.28,"t2":13.349,"v2":-11.28},
{"t":14.844,"v":-11.87,"t2":14.844,"v2":-13.64}
 ],
 "boxes":[
{"t":6.738,"v":-21.55,"t2":8.485,"v2":-27.45},
{"t":10.463,"v":-2.18,"t2":12.364,"v2":-7.91},
{"t":14.439,"v":-2.18,"t2":17.947,"v2":-11.87},
{"t":11.798,"v":-34.53,"t2":15.767,"v2":-43.54}
 ],
 "boxtexts":[
{"t":6.752,"v":-25.6,"text":"le Abkühlung"},
{"t":10.631,"v":-6.22,"text":"Abtauzyklus"},
{"t":14.614,"v":-6.22,"text":"Größere Temperaturamplitude"},
{"t":14.614,"v":-9.51,"text":"durch Start/Stopp-Betrieb"},
{"t":11.979,"v":-38.4,"text":"Präzise Temperaturführung bei"},
{"t":11.979,"v":-41.86,"text":"effizientem Energieeinsatz"}
 ],
 "labels":[
{"t":11.916,"v":23.09,"text":"Drehzahl"},
{"t":12.448,"v":5.91,"text":"Betrieb/Zylinderanzahl"},
{"t":12.175,"v":-17.17,"text":"Temperaturen"},
{"t":12.413,"v":-32.34,"text":"Betriebszustände"}
 ],
 "zyl":[
{"t":8.793,"v":4.48,"text":"4 Zyl"},
{"t":10.218,"v":2.45,"text":"2 Zyl"},
{"t":9.128,"v":0.68,"text":"0 Zyl"}
 ]
},
"encoding":{"x":{"field":"t","type":"quantitative","scale":{"domain":[7.5,16.5],"nice":false,"zero":false},
  "axis":{"values":[7.5,8.5,9.5,10.5,11.5,12.5,13.5,14.5,15.5,16.5],"labelExpr":"(datum.value < 10 ? '0' : '') + floor(datum.value) + ':30'","labelFlush":false,"labelOverlap":false,"grid":true,"tickSize":7,"labelPadding":17,"title":"Zeit","titleX":619,"titleY":85,"titleBaseline":"middle","titleAlign":"center"}}},
"layer":[
 {"layer":[
  {"data":{"name":"refs"},"mark":{"type":"rule","stroke":"#b8b8b8","strokeWidth":2,"strokeDash":[10,5]},
   "encoding":{"x2":{"field":"t2"},"y":{"field":"v","type":"quantitative","scale":{"domain":[-40,30],"nice":false,"zero":false},
     "axis":{"orient":"left","values":[-40,-35,-30,-25,-20,-15,-10,-5,0,5,10,15,20,25,30],"labelExpr":"'' + datum.value","grid":true,"tickSize":6,"labelPadding":4,"title":"Temperatur [°C]","titleX":-81,"titleY":387,"titleAngle":270,"titleBaseline":"middle","titleAlign":"center"}}}},
  {"data":{"name":"temps"},"mark":{"type":"line"},
   "encoding":{"y":{"field":"v","type":"quantitative"},
    "color":{"field":"s","type":"nominal","scale":{"domain":["DL vorne unten","DL vorne oben","DL mitte unten","DL mitte oben","DL hinten unten","DL hinten oben","TLE","TLA","SET","Komp","Mag","HEAT","DEFROST","RPM"],"range":["#a47b70","#8576b8","#d46a64","#6f839f","#5f6a45","#e3dc3e","#6466c8","#c4d56a","#a8150f","#e08a4a","#cf4b4b","#5a9e95","#6b62ad","#3a3a3a"]},
     "legend":{"title":null,"orient":"none","legendX":1300,"legendY":532,"padding":7,"fillColor":"#ffffff","strokeColor":"#1a1a1a","labelFont":"Liberation Sans","labelFontWeight":"bold","labelFontSize":15,"labelColor":"#222222","labelLimit":220,"labelOffset":31,"symbolType":"M-4.5,0H4.5","symbolSize":100,"symbolOffset":16,"rowPadding":5.2}},
    "strokeWidth":{"field":"s","type":"nominal","scale":{"type":"ordinal","domain":["DL vorne unten","DL vorne oben","DL mitte unten","DL mitte oben","DL hinten unten","DL hinten oben","TLE","TLA","SET","Komp","Mag","HEAT","DEFROST","RPM"],"range":[1.5,1.5,1.5,1.5,1.5,1.5,1.5,1.5,5,1.6,1.4,1.4,1.6,1.6]},"legend":null}}}
 ]},
 {"data":{"name":"rpm"},"mark":{"type":"line","strokeWidth":1.6},
  "encoding":{"y":{"field":"v","type":"quantitative","scale":{"domain":[-4000,2000],"nice":false,"zero":false},
    "axis":{"orient":"right","values":[0,1000,2000],"labelExpr":"'' + datum.value","grid":false,"tickSize":9,"labelPadding":11,"title":"Drehzahl [1/min]","titleX":142,"titleY":189,"titleAngle":270,"titleBaseline":"middle","titleAlign":"center"}},
   "color":{"field":"s","type":"nominal","scale":{"domain":["DL vorne unten","DL vorne oben","DL mitte unten","DL mitte oben","DL hinten unten","DL hinten oben","TLE","TLA","SET","Komp","Mag","HEAT","DEFROST","RPM"],"range":["#a47b70","#8576b8","#d46a64","#6f839f","#5f6a45","#e3dc3e","#6466c8","#c4d56a","#a8150f","#e08a4a","#cf4b4b","#5a9e95","#6b62ad","#3a3a3a"]},
     "legend":{"title":null,"orient":"none","legendX":1300,"legendY":532,"padding":7,"fillColor":"#ffffff","strokeColor":"#1a1a1a","labelFont":"Liberation Sans","labelFontWeight":"bold","labelFontSize":15,"labelColor":"#222222","labelLimit":220,"labelOffset":31,"symbolType":"M-4.5,0H4.5","symbolSize":100,"symbolOffset":16,"rowPadding":5.2}}}},
 {"layer":[
  {"data":{"name":"boxes"},"mark":{"type":"rect","color":"#bfd8f5"},
   "encoding":{"x2":{"field":"t2"},"y":{"field":"v","type":"quantitative","scale":{"domain":[-40,30],"nice":false,"zero":false},"axis":null},"y2":{"field":"v2"}}},
  {"data":{"name":"boxtexts"},"mark":{"type":"text","font":"Liberation Sans","fontSize":37,"align":"left","baseline":"alphabetic","color":"#1c1c1c"},
   "encoding":{"y":{"field":"v","type":"quantitative"},"text":{"field":"text"}}},
  {"data":{"name":"connectors"},"mark":{"type":"rule","stroke":"#2c3e8f","strokeWidth":4.5,"strokeCap":"square"},
   "encoding":{"x2":{"field":"t2"},"y":{"field":"v","type":"quantitative"},"y2":{"field":"v2"}}},
  {"data":{"name":"circles"},"mark":{"type":"point","shape":"circle","filled":false,"size":9852,"stroke":"#34459b","strokeWidth":4,"opacity":1},
   "encoding":{"y":{"field":"v","type":"quantitative"}}},
  {"data":{"name":"labels"},"mark":{"type":"text","font":"DejaVu Sans","fontWeight":"bold","fontSize":16,"align":"center","baseline":"middle","color":"#151515"},
   "encoding":{"y":{"field":"v","type":"quantitative"},"text":{"field":"text"}}},
  {"data":{"name":"zyl"},"mark":{"type":"text","font":"DejaVu Sans","fontSize":16,"align":"center","baseline":"middle","color":"#5a5a5a"},
   "encoding":{"y":{"field":"v","type":"quantitative"},"text":{"field":"text"}}}
 ]}
],
"resolve":{"scale":{"y":"independent"},"axis":{"y":"independent"}}
}
